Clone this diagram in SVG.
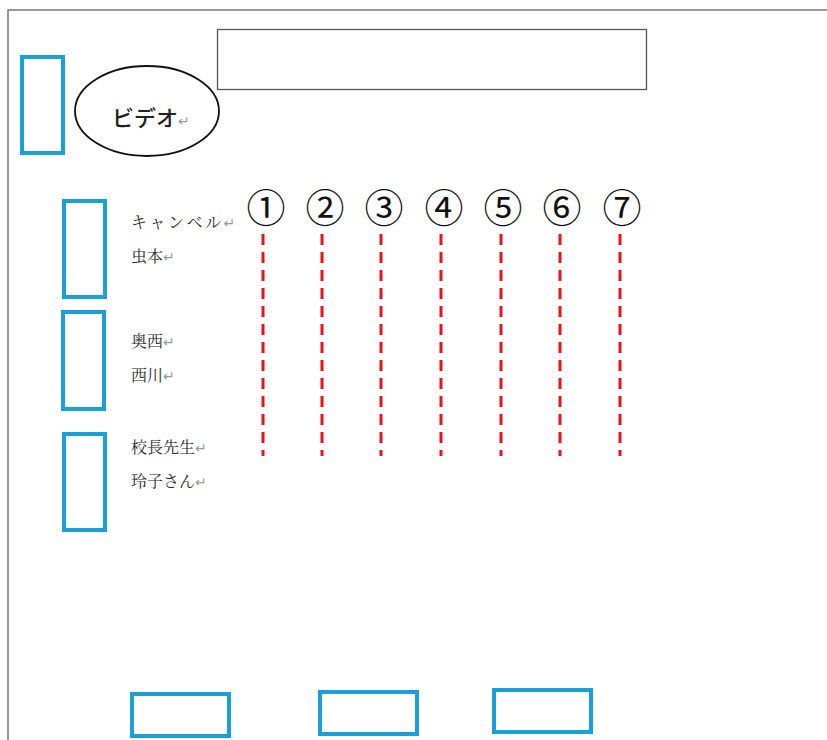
<svg xmlns="http://www.w3.org/2000/svg" width="827" height="740" viewBox="0 0 827 740">
<style>
.blue{fill:none;stroke:#1a9fd6;stroke-width:4}
.dash{stroke:#e8141b;stroke-width:3;stroke-dasharray:11,7}
.lbl{font-family:"Noto Serif CJK JP","Noto Sans CJK JP",serif;font-size:16px;fill:#2a2a2a}
.ret{fill:#999;font-family:"DejaVu Sans",sans-serif;font-size:14px}
.num{font-family:"Noto Sans CJK JP","DejaVu Sans",sans-serif;font-size:39px;fill:#111;text-anchor:middle}
</style>
<rect width="827" height="740" fill="#fff"/>
<path d="M8,740 V10 H827" fill="none" stroke="#777" stroke-width="1.5"/>
<rect x="217.5" y="29.5" width="429" height="60" fill="none" stroke="#555" stroke-width="1.3"/>
<g id="video">
<ellipse cx="147" cy="111" rx="72" ry="45" fill="#fff" stroke="#111" stroke-width="1.8"/>
<text x="112" y="126" font-family="'Noto Sans CJK JP',sans-serif" font-size="22" font-weight="500" fill="#222">ビデオ<tspan class="ret">↵</tspan></text>
</g>
<g id="box1"><rect class="blue" x="22" y="57" width="41" height="96"/></g>
<g id="box2"><rect class="blue" x="64" y="201" width="41" height="96"/></g>
<g id="box3"><rect class="blue" x="63" y="312" width="41" height="97"/></g>
<g id="box4"><rect class="blue" x="64" y="434" width="41" height="96"/></g>
<g id="box5"><rect class="blue" x="132" y="694" width="97" height="42"/></g>
<g id="box6"><rect class="blue" x="320" y="692" width="97" height="42"/></g>
<g id="box7"><rect class="blue" x="494" y="690" width="97" height="42"/></g>
<g id="labels">
<text class="lbl" x="131" y="228" letter-spacing="2.5">キャンベル<tspan class="ret">↵</tspan></text>
<text class="lbl" x="131" y="262">虫本<tspan class="ret">↵</tspan></text>
<text class="lbl" x="131" y="347">奥西<tspan class="ret">↵</tspan></text>
<text class="lbl" x="131" y="381">西川<tspan class="ret">↵</tspan></text>
<text class="lbl" x="131" y="453">校長先生<tspan class="ret">↵</tspan></text>
<text class="lbl" x="131" y="487">玲子さん<tspan class="ret">↵</tspan></text>
</g>
<g id="numbers">
<text class="num" x="266" y="222">①</text>
<text class="num" x="325" y="222">②</text>
<text class="num" x="384" y="222">③</text>
<text class="num" x="444" y="222">④</text>
<text class="num" x="503" y="222">⑤</text>
<text class="num" x="562" y="222">⑥</text>
<text class="num" x="622" y="222">⑦</text>
</g>
<g id="connectors">
<line class="dash" x1="263" y1="234" x2="263" y2="456"/>
<line class="dash" x1="322" y1="234" x2="322" y2="456"/>
<line class="dash" x1="381" y1="234" x2="381" y2="456"/>
<line class="dash" x1="441" y1="234" x2="441" y2="456"/>
<line class="dash" x1="501" y1="234" x2="501" y2="456"/>
<line class="dash" x1="560" y1="234" x2="560" y2="456"/>
<line class="dash" x1="620" y1="234" x2="620" y2="456"/>
</g>
</svg>
